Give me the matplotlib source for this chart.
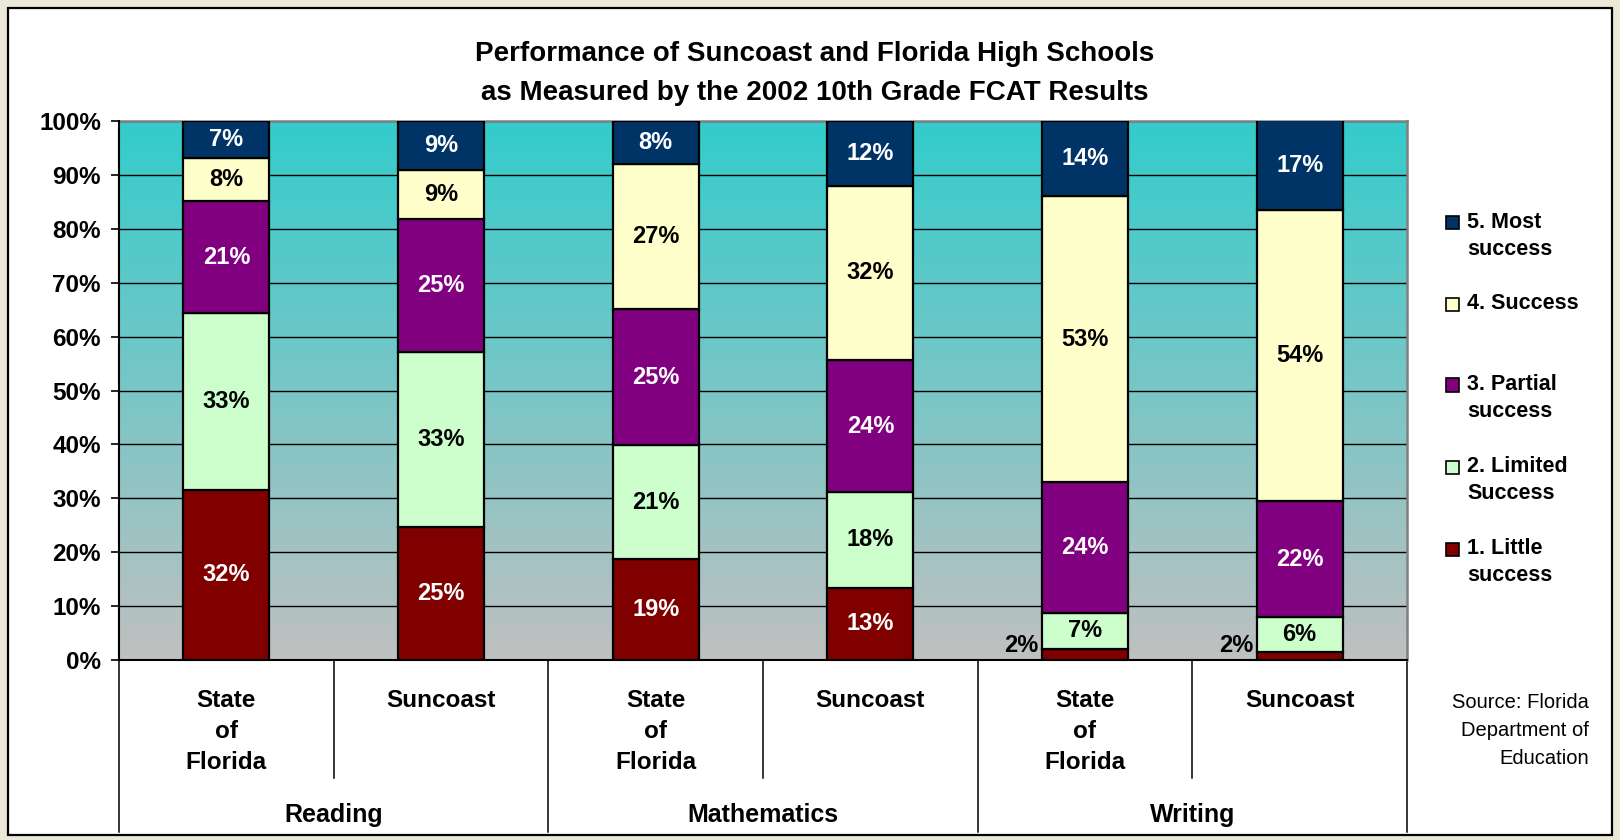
import numpy as np
import matplotlib
matplotlib.use("Agg")
import matplotlib.pyplot as plt
from matplotlib.patches import Rectangle
from matplotlib.colors import LinearSegmentedColormap
import matplotlib.transforms as mtransforms

plt.rcParams['font.family'] = ['Liberation Sans', 'DejaVu Sans']

# ---------------- data ----------------
categories = ["State\nof\nFlorida", "Suncoast", "State\nof\nFlorida", "Suncoast", "State\nof\nFlorida", "Suncoast"]
groups = ["Reading", "Mathematics", "Writing"]
series_names = ["1. Little\nsuccess", "2. Limited\nSuccess", "3. Partial\nsuccess", "4. Success", "5. Most\nsuccess"]
little = [31.6, 24.6, 18.8, 13.4, 2.1, 1.5]
limited = [32.8, 32.6, 21.0, 17.8, 6.7, 6.4]
partial = [20.7, 24.6, 25.3, 24.4, 24.3, 21.6]
success = [8.0, 9.2, 27.0, 32.4, 52.9, 54.0]
most = [6.9, 9.0, 7.9, 12.0, 14.0, 16.6]
yticks = [0, 10, 20, 30, 40, 50, 60, 70, 80, 90, 100]

series = [little, limited, partial, success, most]
colors = ["#800000", "#CCFFCC", "#800080", "#FFFFCC", "#003366"]
text_colors = ["white", "black", "white", "black", "white"]

W, H = 1620, 840
fig = plt.figure(figsize=(W / 100, H / 100), dpi=100, facecolor="#ECE8D8")

def fx(x):
    return x / W

def fy(y):
    return 1 - y / H

# white chart panel
fig.patches.append(Rectangle((fx(8), fy(835)), fx(1612) - fx(8), fy(8) - fy(835),
                             transform=fig.transFigure, facecolor="white",
                             edgecolor="black", lw=1.6, zorder=-5))

ax = fig.add_axes([fx(119), fy(660), fx(1407) - fx(119), fy(121) - fy(660)])
ax.set_facecolor("none")
ax.set_zorder(2)

# gradient background
cmap = LinearSegmentedColormap.from_list("bg", ["#C0C0C0", "#33CCCC"])
grad = np.linspace(0, 1, 256).reshape(-1, 1)
ax.imshow(grad, extent=[-0.5, 5.5, 0, 100], origin="lower", aspect="auto",
          cmap=cmap, zorder=0)

x = np.arange(len(categories))
bottom = np.zeros(len(categories))
bw = 0.40
for vals, c, tc in zip(series, colors, text_colors):
    vals = np.array(vals)
    ax.bar(x, vals, bw, bottom=bottom, color=c, edgecolor="black", lw=1.6, zorder=3)
    for i, (v, b) in enumerate(zip(vals, bottom)):
        lab = f"{v:.0f}%"
        if v < 4:
            ax.text(i - bw / 2 - 0.015, 2.6, lab, ha="right", va="center",
                    fontsize=17, fontweight="bold", color="black", zorder=4)
        else:
            ax.text(i, b + v / 2, lab, ha="center", va="center",
                    fontsize=17, fontweight="bold", color=tc, zorder=4)
    bottom = bottom + vals

ax.set_xlim(-0.5, 5.5)
ax.set_ylim(0, 100)
ax.set_yticks(yticks)
ax.set_yticklabels([f"{t}%" for t in yticks], fontsize=17.5, fontweight="bold")
ax.tick_params(axis="y", length=6, width=1.2, pad=7, color="black")
ax.grid(axis="y", color="black", lw=1.0)
ax.set_axisbelow(True)

ax.set_xticks(x)
ax.set_xticklabels(categories, fontsize=17.5, fontweight="bold", linespacing=1.45)
ax.tick_params(axis="x", length=0, pad=21)

for s in ["left", "bottom"]:
    ax.spines[s].set_color("black")
    ax.spines[s].set_linewidth(1.5)
for s in ["top", "right"]:
    ax.spines[s].set_color("#808080")
    ax.spines[s].set_linewidth(1.8)
ax.spines["left"].set_zorder(5)
ax.spines["bottom"].set_zorder(5)

# separators under the axis
trans = mtransforms.blended_transform_factory(ax.transData, ax.transAxes)
for b in np.arange(-0.5, 6.0, 1.0):
    outer = (round(b + 0.5) % 2 == 0)
    y_end = -0.319 if outer else -0.219
    ax.plot([b, b], [0, y_end], color="black", lw=1.1, transform=trans, clip_on=False)

for gi, g in enumerate(groups):
    ax.text(2 * gi + 0.5, -0.288, g, transform=trans, ha="center", va="center",
            fontsize=18, fontweight="bold")

# title
fig.text(fx(815), fy(54), "Performance of Suncoast and Florida High Schools",
         ha="center", va="center", fontsize=20, fontweight="bold")
fig.text(fx(815), fy(93), "as Measured by the 2002 10th Grade FCAT Results",
         ha="center", va="center", fontsize=20, fontweight="bold")

# legend (manual, matching layout)
leg_y = {4: 223, 3: 304, 2: 385, 1: 467, 0: 549}
for k in range(5):
    yc = leg_y[k]
    fig.patches.append(Rectangle((fx(1446), fy(yc + 6.5)), fx(13), 13 / H,
                                 transform=fig.transFigure, facecolor=colors[k],
                                 edgecolor="black", lw=1.2))
    fig.text(fx(1467), fy(yc - 11), series_names[k], ha="left", va="top",
             fontsize=15.5, fontweight="bold", linespacing=1.35)

# source
fig.text(fx(1589), fy(730), "Source: Florida\nDepartment of\nEducation",
         ha="right", va="center", multialignment="right", fontsize=14.5,
         family=["Liberation Sans Narrow", "Liberation Sans"], linespacing=1.6)

fig.savefig("out.png", dpi=100, facecolor=fig.get_facecolor())
